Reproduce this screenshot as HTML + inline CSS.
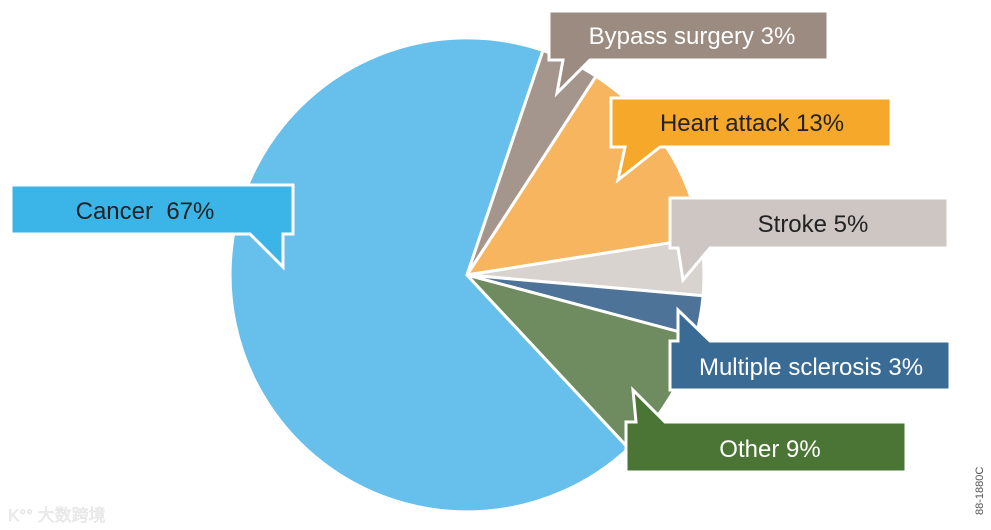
<!DOCTYPE html>
<html><head><meta charset="utf-8"><style>
html,body{margin:0;padding:0;background:#fff;width:991px;height:530px;overflow:hidden}
text{font-family:"Liberation Sans","Noto Sans CJK SC",sans-serif}
</style></head><body>
<svg width="991" height="530" viewBox="0 0 991 530" xmlns="http://www.w3.org/2000/svg">
<g stroke="#fff" stroke-width="3" stroke-linejoin="round">
<path d="M467,275 L628.6,448.3 A237,237 0 1 1 543,50.4 Z" fill="#67bfeb"/>
<path d="M467,275 L543,50.4 A237,237 0 0 1 596.1,76.2 Z" fill="#a4968c"/>
<path d="M467,275 L596.1,76.2 A237,237 0 0 1 701.1,237.9 Z" fill="#f8b55f"/>
<path d="M467,275 L701.1,237.9 A237,237 0 0 1 703.1,295.7 Z" fill="#d9d3d0"/>
<path d="M467,275 L703.1,295.7 A237,237 0 0 1 695.9,336.3 Z" fill="#4e7399"/>
<path d="M467,275 L695.9,336.3 A237,237 0 0 1 628.6,448.3 Z" fill="#6e8c60"/>
</g>
<g stroke="#fff" stroke-width="3">
<path d="M11,185 H293 V234 H283 V267 L250,234 H11 Z" fill="#3bb5e8"/>
<path d="M549,11 H828 V60 H590 L557,93 L563,60 H549 Z" fill="#9b8b80"/>
<path d="M611,98 H891 V147 H660 L618,180 L625,147 H611 Z" fill="#f6a82a"/>
<path d="M670,198 H948 V248 H710 L683,280 L678,248 H670 Z" fill="#cdc6c3"/>
<path d="M670,341 H678 L678,310 L710,341 H950 V390 H670 Z" fill="#396b95"/>
<path d="M626,422 H636 L633,390 L665,422 H906 V472 H626 Z" fill="#4a7534"/>
</g>
<g font-size="24">
<text x="145" y="219" text-anchor="middle" fill="#222">Cancer&#160; 67%</text>
<text x="692" y="44" text-anchor="middle" fill="#fff">Bypass surgery 3%</text>
<text x="752" y="131" text-anchor="middle" fill="#222">Heart attack 13%</text>
<text x="813" y="232" text-anchor="middle" fill="#222">Stroke 5%</text>
<text x="811" y="375" text-anchor="middle" fill="#fff">Multiple sclerosis 3%</text>
<text x="770" y="457" text-anchor="middle" fill="#fff">Other 9%</text>
</g>
<text transform="translate(983,515) rotate(-90)" font-size="11" fill="#555">88-1880C</text>
<text x="8" y="521" font-size="17" fill="#f0f0f0" stroke="#e0e0e0" stroke-width="0.5">K°° 大数跨境</text>
</svg>
</body></html>
